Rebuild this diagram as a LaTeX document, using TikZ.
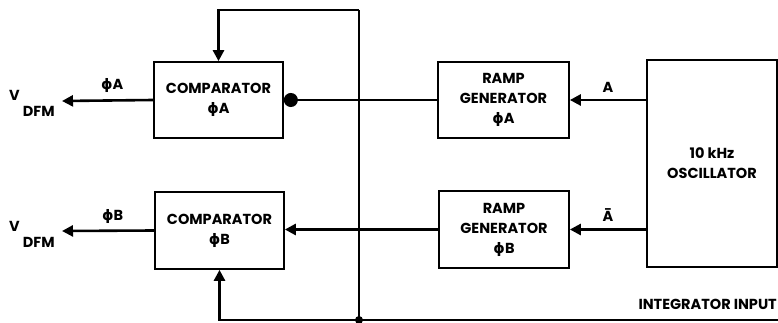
\documentclass[tikz,border=0pt]{standalone}
\usepackage{fontspec}
\setmainfont{Poppins}
\newfontfamily\grk{DejaVu Sans}
\usetikzlibrary{arrows.meta}
\newcommand{\ph}{{\grk\symbol{"03D5}}}
\newcommand{\vdfm}{\raisebox{16pt}{V}\kern3pt DFM}
\begin{document}
\begin{tikzpicture}[x=1pt, y=-1pt, >={Triangle[length=11pt,width=11pt]},
    font=\bfseries\fontsize{14.5}{20}\selectfont,
    block/.style={draw, line width=1.7pt, align=center, inner sep=0pt},
    wire/.style={line width=2.6pt}]
    \useasboundingbox (0,0) rectangle (778,323);
    % Blocks
    \node[block, minimum width=129pt, minimum height=76pt] (compA) at (218.5,100) {COMPARATOR\\\ph A};
    \node[block, minimum width=129pt, minimum height=77pt] (compB) at (219.5,230.5) {COMPARATOR\\\ph B};
    \node[block, minimum width=131pt, minimum height=76pt] (rampA) at (503.5,100) {RAMP\\GENERATOR\\\ph A};
    \node[block, minimum width=130pt, minimum height=77pt] (rampB) at (504,229.5) {RAMP\\GENERATOR\\\ph B};
    \node[block, minimum width=130pt, minimum height=207pt] (osc) at (712,163.5) {10 kHz\\OSCILLATOR};

    % Junctions and free ends
    \coordinate (jtop) at (359,10);
    \coordinate (jbot) at (359,320);
    \coordinate (inR) at (778,320);
    \coordinate (outA) at (62,101);
    \coordinate (outB) at (62,231);

    % Oscillator to ramps
    \draw[wire,->] (osc.west |- rampA.east) -- (rampA.east) node[midway, above=3pt] {A};
    \draw[wire,->] (osc.west |- rampB.east) -- (rampB.east) node[midway, above=3pt] {\={A}};

    % Ramps to comparators
    \draw[wire,-{Circle[length=14pt]}] (rampA.west) -- (rampA.west -| compA.east);
    \draw[wire,->] (rampB.west) -- (rampB.west -| compB.east);

    % Integrator input
    \draw[wire] (jbot) -- (jtop);
    \draw[wire,->] (jtop) -- (jtop -| compA.north) -- (compA.north);
    \draw[wire,->] (inR) -- (inR -| compB.south) -- (compB.south);
    \fill (jbot) circle (4pt);
    \node[anchor=south east, inner sep=1pt] (integ) at (inR) [yshift=9pt] {INTEGRATOR INPUT};

    % Outputs
    \draw[wire,->] (compA.west) -- (outA) node[pos=0.45, above=3pt] {\ph A};
    \draw[wire,->] (compB.west) -- (outB) node[pos=0.45, above=3pt] {\ph B};
    \node[anchor=base west, inner sep=0pt] (vA) at (9,117) {\vdfm};
    \node[anchor=base west, inner sep=0pt] (vB) at (9,247) {\vdfm};
\end{tikzpicture}
\end{document}
